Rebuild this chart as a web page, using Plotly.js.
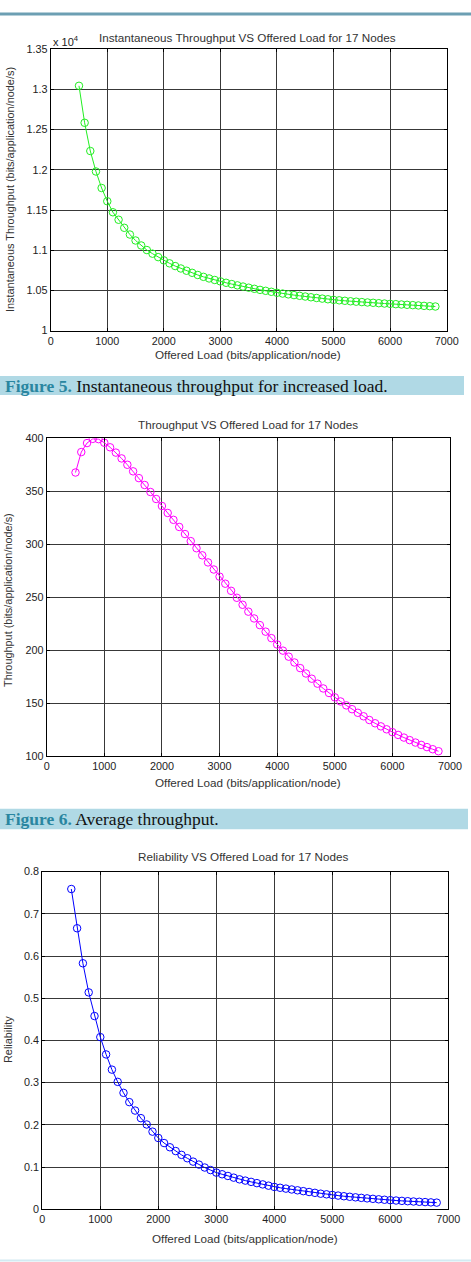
<!DOCTYPE html>
<html>
<head>
<meta charset="utf-8">
<script src="https://cdn.plot.ly/plotly-3.0.1.min.js"></script>
<style>html,body{margin:0;padding:0;background:#fff;}#chart{width:471px;height:1262px;}</style>
</head>
<body>
<div id="chart"></div>
<script>
// ---- data ----
const offeredLoad = [500,600,700,800,900,1000,1100,1200,1300,1400,1500,1600,1700,1800,1900,2000,
  2100,2200,2300,2400,2500,2600,2700,2800,2900,3000,3100,3200,3300,3400,3500,3600,3700,3800,3900,4000,
  4100,4200,4300,4400,4500,4600,4700,4800,4900,5000,5100,5200,5300,5400,5500,5600,5700,5800,5900,6000,
  6100,6200,6300,6400,6500,6600,6700,6800];

const instThroughput = [13046,12586,12235,11980,11775,11610,11473,11380,11280,11196,11122,11060,11003,10958,10915,10875,
  10838,10804,10774,10746,10720,10693,10670,10650,10631,10613,10596,10580,10564,10549,10535,10521,10508,10496,10484,10472,
  10462,10452,10443,10434,10425,10416,10407,10399,10391,10384,10378,10372,10366,10361,10356,10351,10347,10342,10338,10334,
  10330,10326,10322,10318,10314,10309,10305,10301];

const avgThroughput = [367.7,387,395.5,399.5,399.2,395.8,391.5,386.5,381,375,368.8,362.4,355.9,349.3,342.7,336.1,
  329.5,323,316.3,309.6,302.9,296.2,289.5,282.8,276.1,269.4,262.7,256.0,249.4,242.8,236.3,229.9,223.6,217.4,211.3,205.3,
  199.5,193.8,188.3,183.0,177.9,173.0,168.3,163.8,159.5,155.4,151.5,147.8,144.2,140.8,137.5,134.0,130.9,128.0,125.2,122.5,
  119.9,117.4,115.0,112.7,110.5,108.4,106.4,104.5];

const reliability = [0.759,0.666,0.583,0.514,0.458,0.408,0.367,0.331,0.302,0.276,0.254,0.234,0.216,0.201,0.184,0.169,
  0.157,0.147,0.138,0.129,0.121,0.113,0.106,0.099,0.093,0.087,0.083,0.079,0.075,0.071,0.068,0.065,0.062,0.059,0.056,0.053,
  0.051,0.049,0.047,0.045,0.043,0.041,0.039,0.037,0.0355,0.034,0.0325,0.031,0.0297,0.0284,0.0271,0.0259,0.0248,0.0237,0.0226,0.0216,
  0.0208,0.0200,0.0192,0.0185,0.0178,0.0171,0.0164,0.0158];

const xTicks = [0,1000,2000,3000,4000,5000,6000,7000];
const y1TickVals = [10000,10500,11000,11500,12000,12500,13000,13500];
const y1TickText = ['1','1.05','1.1','1.15','1.2','1.25','1.3','1.35'];

const titles = ['Instantaneous Throughput VS Offered Load for 17 Nodes',
                'Throughput VS Offered Load for 17 Nodes',
                'Reliability VS Offered Load for 17 Nodes'];
const xTitle = 'Offered Load (bits/application/node)';
const yTitles = ['Instantaneous Throughput (bits/application/node/s)',
                 'Throughput (bits/application/node/s)',
                 'Reliability'];
const captions = [['Figure 5.', ' Instantaneous throughput for increased load.'],
                  ['Figure 6.', ' Average throughput.']];

// ---- layout helpers (pixel -> paper) ----
const W = 471, H = 1262;
const fx = p => p / W;
const fy = p => 1 - p / H;
const FONT = 'Liberation Sans, Arial, sans-serif';

function axisBase(extra) {
  return Object.assign({
    showgrid: true, gridcolor: '#383838', gridwidth: 1,
    showline: true, linecolor: '#000', linewidth: 1, mirror: 'ticks',
    ticks: 'inside', ticklen: 3, tickcolor: '#000', zeroline: false,
    tickfont: {family: FONT, size: 10.8, color: '#222'},
    fixedrange: true
  }, extra);
}

const traces = [
  {x: offeredLoad, y: instThroughput, xaxis: 'x', yaxis: 'y', type: 'scatter', mode: 'lines+markers',
   line: {color: '#22ee22', width: 1}, marker: {symbol: 'circle-open', size: 7.5, color: '#22ee22', line: {width: 1}}},
  {x: offeredLoad, y: avgThroughput, xaxis: 'x2', yaxis: 'y2', type: 'scatter', mode: 'lines+markers',
   line: {color: '#ff00ff', width: 1}, marker: {symbol: 'circle-open', size: 7.5, color: '#ff00ff', line: {width: 1}}},
  {x: offeredLoad, y: reliability, xaxis: 'x3', yaxis: 'y3', type: 'scatter', mode: 'lines+markers',
   line: {color: '#0000ff', width: 1}, marker: {symbol: 'circle-open', size: 7.5, color: '#0000ff', line: {width: 1}}}
];

const plots = [
  {x0: 50.7, x1: 446.7, yt: 49.3, yb: 330.7},
  {x0: 46.7, x1: 450, yt: 438.3, yb: 756},
  {x0: 42.3, x1: 448.3, yt: 871.7, yb: 1209.3}
];

const layout = {
  width: W, height: H, margin: {l: 0, r: 0, t: 0, b: 0},
  paper_bgcolor: '#fff', plot_bgcolor: '#fff', showlegend: false,
  font: {family: FONT, color: '#222'},
  xaxis:  axisBase({domain: [fx(plots[0].x0), fx(plots[0].x1)], range: [0, 7000], tickvals: xTicks, anchor: 'y'}),
  yaxis:  axisBase({domain: [fy(plots[0].yb), fy(plots[0].yt)], range: [10000, 13500], tickvals: y1TickVals, ticktext: y1TickText, anchor: 'x'}),
  xaxis2: axisBase({domain: [fx(plots[1].x0), fx(plots[1].x1)], range: [0, 7000], tickvals: xTicks, anchor: 'y2'}),
  yaxis2: axisBase({domain: [fy(plots[1].yb), fy(plots[1].yt)], range: [100, 400], dtick: 50, tick0: 100, anchor: 'x2'}),
  xaxis3: axisBase({domain: [fx(plots[2].x0), fx(plots[2].x1)], range: [0, 7000], tickvals: xTicks, anchor: 'y3'}),
  yaxis3: axisBase({domain: [fy(plots[2].yb), fy(plots[2].yt)], range: [0, 0.8], dtick: 0.1, tick0: 0, anchor: 'x3'}),
  shapes: [
    {type: 'line', xref: 'paper', yref: 'paper', x0: 0, x1: 1, y0: fy(14), y1: fy(14), line: {color: '#6c9fb3', width: 3}},
    {type: 'rect', xref: 'paper', yref: 'paper', x0: 0, x1: fx(464), y0: fy(395), y1: fy(376), fillcolor: '#b0d9e5', line: {width: 0}, layer: 'below'},
    {type: 'rect', xref: 'paper', yref: 'paper', x0: 0, x1: fx(468), y0: fy(829.3), y1: fy(808.7), fillcolor: '#b0d9e5', line: {width: 0}, layer: 'below'},
    {type: 'line', xref: 'paper', yref: 'paper', x0: 0, x1: 1, y0: fy(1260.5), y1: fy(1260.5), line: {color: '#d3eaf2', width: 2}}
  ],
  annotations: []
};

const titlePos = [[247.5, 37.7], [247.5, 425], [243.3, 856.7]];
const xTitlePos = [[248.3, 354], [247.5, 782.7], [244.5, 1238]];
const yTitlePos = [[10, 190], [8, 600], [8, 1040]];
for (let i = 0; i < 3; i++) {
  layout.annotations.push({xref: 'paper', yref: 'paper', x: fx(titlePos[i][0]), y: fy(titlePos[i][1]),
    xanchor: 'center', yanchor: 'middle', showarrow: false, text: titles[i],
    font: {family: FONT, size: 11.7, color: '#333'}});
  layout.annotations.push({xref: 'paper', yref: 'paper', x: fx(xTitlePos[i][0]), y: fy(xTitlePos[i][1]),
    xanchor: 'center', yanchor: 'middle', showarrow: false, text: xTitle,
    font: {family: FONT, size: 11.7, color: '#333'}});
  layout.annotations.push({xref: 'paper', yref: 'paper', x: fx(yTitlePos[i][0]), y: fy(yTitlePos[i][1]),
    xanchor: 'center', yanchor: 'middle', showarrow: false, text: yTitles[i], textangle: -90,
    font: {family: FONT, size: 10.9, color: '#333'}});
}
// exponent label
layout.annotations.push({xref: 'paper', yref: 'paper', x: fx(51), y: fy(41), xanchor: 'left', yanchor: 'middle',
  showarrow: false, text: 'x 10<sup>4</sup>', font: {family: FONT, size: 11, color: '#222'}});

// captions
const capY = [385.5, 819];
for (let i = 0; i < 2; i++) {
  layout.annotations.push({xref: 'paper', yref: 'paper', x: fx(3), y: fy(capY[i]), xanchor: 'left', yanchor: 'middle',
    showarrow: false,
    text: '<span style="color:#2a86a0"><b>' + captions[i][0] + '</b></span>' + captions[i][1],
    font: {family: 'Liberation Serif, Times New Roman, serif', size: 17.5, color: '#111'}});
}

Plotly.newPlot('chart', traces, layout, {displayModeBar: false, staticPlot: true});
</script>
</body>
</html>
